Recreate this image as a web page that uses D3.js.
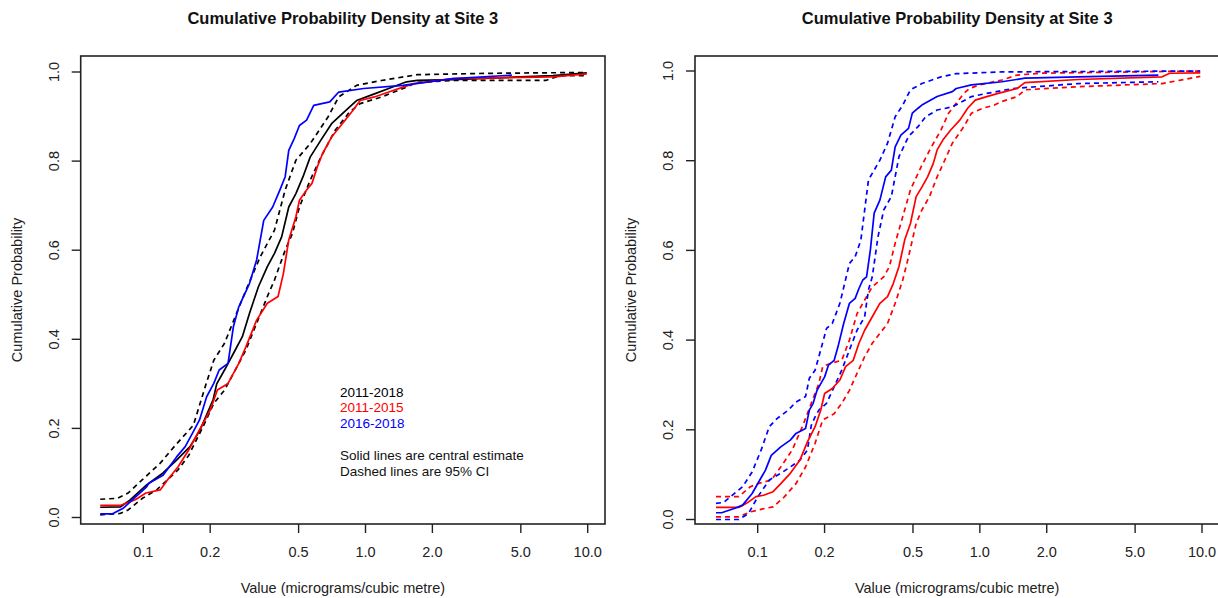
<!DOCTYPE html>
<html>
<head>
<meta charset="utf-8">
<script src="https://cdn.jsdelivr.net/npm/d3@7"></script>
<style>
  body { margin: 0; background: #fff; }
  svg { display: block; font-family: "Liberation Sans", Arial, sans-serif; }
</style>
</head>
<body>
<svg id="chart" width="1218" height="598"></svg>
<script>
// Títulos e rótulos
const chartTitle = "Cumulative Probability Density at Site 3";
const xTitle = "Value (micrograms/cubic metre)";
const yTitle = "Cumulative Probability";
const xTicks = [0.1, 0.2, 0.5, 1, 2, 5, 10];
const xTickLabels = ["0.1", "0.2", "0.5", "1.0", "2.0", "5.0", "10.0"];
const yTicks = [0, 0.2, 0.4, 0.6, 0.8, 1.0];
const yTickLabels = ["0.0", "0.2", "0.4", "0.6", "0.8", "1.0"];

const periods = ["2011-2018", "2011-2015", "2016-2018"];
const periodColors = ["#000000", "#ff0000", "#0000ff"];
const notes = ["Solid lines are central estimate", "Dashed lines are 95% CI"];

// Painel esquerdo: [valor, probabilidade]
const left2011_2018 = [[0.064,0.023],[0.079,0.024],[0.087,0.039],[0.1035,0.073],[0.1227,0.100],[0.1412,0.129],[0.1622,0.159],[0.180,0.196],[0.2061,0.264],[0.2140,0.300],[0.232,0.331],[0.2593,0.376],[0.2791,0.406],[0.3004,0.458],[0.3297,0.518],[0.3616,0.563],[0.3894,0.593],[0.4194,0.630],[0.4515,0.697],[0.4861,0.727],[0.5234,0.765],[0.5636,0.809],[0.6297,0.847],[0.7035,0.884],[0.816,0.914],[0.9117,0.936],[1.097,0.951],[1.272,0.963],[1.530,0.978],[1.711,0.981],[2.475,0.983],[6.973,0.992],[9.908,0.998]];
const left2011_2018Lo = [[0.064,0.006],[0.0786,0.009],[0.0855,0.017],[0.0991,0.043],[0.1149,0.062],[0.1434,0.107],[0.1603,0.140],[0.1858,0.204],[0.2076,0.256],[0.232,0.286],[0.2593,0.331],[0.2895,0.376],[0.3236,0.436],[0.3616,0.496],[0.3894,0.533],[0.435,0.600],[0.4685,0.637],[0.5044,0.697],[0.5636,0.757],[0.6297,0.809],[0.7302,0.869],[0.8467,0.910],[0.9461,0.929],[1.181,0.944],[1.53,0.966],[1.711,0.977],[2.475,0.981],[6.475,0.981],[7.508,0.992],[9.908,0.992]];
const left2011_2018Hi = [[0.064,0.041],[0.0765,0.043],[0.0855,0.055],[0.0991,0.085],[0.1192,0.122],[0.1382,0.160],[0.168,0.207],[0.192,0.301],[0.2076,0.353],[0.232,0.391],[0.2593,0.451],[0.2895,0.510],[0.3358,0.585],[0.3894,0.645],[0.435,0.735],[0.4861,0.802],[0.5636,0.839],[0.678,0.899],[0.7577,0.944],[0.9117,0.970],[1.181,0.981],[1.711,0.994],[3.583,0.997],[9.908,0.999]];
const left2011_2015 = [[0.064,0.027],[0.0786,0.027],[0.092,0.040],[0.1028,0.055],[0.1192,0.062],[0.1284,0.084],[0.1434,0.114],[0.1603,0.152],[0.1791,0.197],[0.2001,0.241],[0.2154,0.286],[0.2406,0.301],[0.269,0.346],[0.2895,0.383],[0.3236,0.443],[0.3616,0.481],[0.4041,0.496],[0.4272,0.548],[0.4515,0.623],[0.4861,0.675],[0.5044,0.712],[0.5431,0.735],[0.5741,0.750],[0.6068,0.787],[0.6414,0.817],[0.7035,0.854],[0.7863,0.884],[0.8786,0.914],[0.9461,0.936],[1.097,0.944],[1.272,0.955],[1.475,0.966],[1.648,0.974],[2.475,0.985],[6.973,0.989],[9.908,0.996]];
const left2016_2018 = [[0.064,0.008],[0.0723,0.008],[0.0813,0.021],[0.1035,0.069],[0.1059,0.077],[0.1227,0.095],[0.1412,0.136],[0.1544,0.159],[0.1663,0.189],[0.1791,0.219],[0.1928,0.271],[0.2076,0.301],[0.2195,0.331],[0.2406,0.346],[0.2543,0.428],[0.269,0.473],[0.3004,0.525],[0.3236,0.578],[0.3484,0.667],[0.3822,0.697],[0.4116,0.735],[0.435,0.765],[0.4515,0.824],[0.4772,0.850],[0.5044,0.880],[0.5431,0.892],[0.5848,0.925],[0.6907,0.933],[0.7577,0.955],[0.9817,0.963],[1.475,0.970],[2.475,0.985],[4.557,0.993]];

// Painel direito
const right2011_2015 = [[0.0649,0.027],[0.0822,0.027],[0.089,0.036],[0.0982,0.051],[0.1063,0.054],[0.1173,0.062],[0.127,0.080],[0.1402,0.103],[0.1547,0.132],[0.1675,0.173],[0.1813,0.207],[0.1923,0.244],[0.2001,0.281],[0.2166,0.292],[0.2344,0.311],[0.2487,0.341],[0.2692,0.355],[0.2856,0.393],[0.303,0.422],[0.3279,0.452],[0.3548,0.482],[0.3841,0.497],[0.4076,0.526],[0.4325,0.564],[0.4587,0.623],[0.487,0.660],[0.5167,0.720],[0.5483,0.741],[0.5817,0.764],[0.6174,0.794],[0.6422,0.824],[0.6815,0.846],[0.7376,0.868],[0.8141,0.891],[0.8812,0.917],[0.9537,0.935],[1.074,0.943],[1.209,0.950],[1.473,0.961],[1.594,0.974],[2.773,0.981],[6.618,0.987],[7.16,0.995],[9.824,0.996]];
const right2011_2015Lo = [[0.0649,0.006],[0.0822,0.006],[0.0926,0.017],[0.1084,0.025],[0.1173,0.028],[0.1321,0.051],[0.1487,0.080],[0.1642,0.117],[0.1813,0.170],[0.1962,0.222],[0.2209,0.236],[0.239,0.259],[0.2588,0.288],[0.28,0.326],[0.303,0.363],[0.3279,0.393],[0.3548,0.415],[0.3841,0.437],[0.4157,0.482],[0.4497,0.534],[0.4775,0.586],[0.5167,0.660],[0.5483,0.690],[0.5934,0.720],[0.6422,0.764],[0.6951,0.801],[0.7522,0.839],[0.8469,0.876],[0.9167,0.906],[1.032,0.917],[1.162,0.924],[1.258,0.932],[1.473,0.943],[1.594,0.958],[2.773,0.965],[6.618,0.972],[9.824,0.988]];
const right2011_2015Hi = [[0.0649,0.051],[0.0822,0.051],[0.0926,0.073],[0.1002,0.080],[0.1151,0.088],[0.127,0.117],[0.143,0.155],[0.161,0.214],[0.1742,0.259],[0.1885,0.303],[0.1962,0.341],[0.2123,0.348],[0.239,0.355],[0.2588,0.400],[0.28,0.459],[0.2972,0.482],[0.3279,0.519],[0.3692,0.541],[0.3917,0.564],[0.4157,0.616],[0.4587,0.690],[0.487,0.735],[0.5483,0.790],[0.6053,0.831],[0.6681,0.868],[0.7232,0.906],[0.7825,0.928],[0.8469,0.950],[0.8987,0.961],[0.9921,0.969],[1.258,0.980],[1.473,0.991],[1.867,0.995],[9.824,1.0]];
const right2016_2018 = [[0.0649,0.015],[0.0688,0.015],[0.079,0.025],[0.0855,0.032],[0.0944,0.058],[0.1022,0.088],[0.1084,0.110],[0.1151,0.143],[0.127,0.162],[0.1402,0.177],[0.1487,0.192],[0.1642,0.203],[0.1708,0.244],[0.1777,0.259],[0.1849,0.288],[0.2001,0.318],[0.2082,0.344],[0.2209,0.355],[0.2298,0.385],[0.2438,0.437],[0.2588,0.482],[0.2746,0.493],[0.2856,0.515],[0.2972,0.534],[0.3091,0.541],[0.3215,0.601],[0.3344,0.683],[0.3548,0.712],[0.3767,0.764],[0.3996,0.779],[0.4157,0.831],[0.4411,0.857],[0.4775,0.872],[0.4966,0.906],[0.527,0.917],[0.5483,0.924],[0.6422,0.943],[0.7522,0.954],[0.7825,0.961],[0.9167,0.969],[1.258,0.976],[1.594,0.984],[2.773,0.987],[6.362,0.991]];
const right2016_2018Lo = [[0.0649,0.0],[0.0822,0.0],[0.0908,0.013],[0.1002,0.051],[0.1128,0.088],[0.127,0.103],[0.1402,0.117],[0.1547,0.132],[0.1675,0.155],[0.1742,0.210],[0.1813,0.229],[0.1885,0.244],[0.2041,0.259],[0.2209,0.296],[0.239,0.333],[0.2588,0.378],[0.28,0.422],[0.303,0.452],[0.3152,0.512],[0.3279,0.541],[0.3478,0.630],[0.3692,0.690],[0.3996,0.720],[0.4325,0.809],[0.4775,0.854],[0.527,0.876],[0.5704,0.898],[0.6422,0.913],[0.7522,0.920],[0.9167,0.943],[1.074,0.950],[1.416,0.961],[2.773,0.972],[6.362,0.976]];
const right2016_2018Hi = [[0.0649,0.036],[0.0702,0.038],[0.0855,0.073],[0.0944,0.106],[0.1042,0.158],[0.1128,0.207],[0.1221,0.225],[0.1374,0.244],[0.1487,0.262],[0.1642,0.274],[0.1708,0.315],[0.1813,0.333],[0.1885,0.363],[0.2041,0.426],[0.2166,0.437],[0.2344,0.482],[0.2588,0.571],[0.2746,0.586],[0.2913,0.623],[0.303,0.690],[0.3152,0.757],[0.3548,0.801],[0.3841,0.839],[0.4157,0.898],[0.4497,0.924],[0.487,0.958],[0.5483,0.972],[0.6681,0.987],[0.7825,0.994],[1.258,0.998],[9.824,1.0]];

// Layout dos painéis (pixels)
const panels = [
  { x0: 80.7, x1: 605, y0: 56, y1: 524, tick01: 143.3, tick10: 587.7, p0: 517.5, p1: 72,
    series: [
      { data: left2011_2018Hi, color: periodColors[0], dashed: true },
      { data: left2011_2018Lo, color: periodColors[0], dashed: true },
      { data: left2011_2018, color: periodColors[0] },
      { data: left2011_2015, color: periodColors[1] },
      { data: left2016_2018, color: periodColors[2] }
    ], legend: true },
  { x0: 695, x1: 1219.3, y0: 56, y1: 524, tick01: 757.7, tick10: 1202, p0: 519.5, p1: 71,
    series: [
      { data: right2011_2015Hi, color: periodColors[1], dashed: true },
      { data: right2011_2015Lo, color: periodColors[1], dashed: true },
      { data: right2016_2018Hi, color: periodColors[2], dashed: true },
      { data: right2016_2018Lo, color: periodColors[2], dashed: true },
      { data: right2011_2015, color: periodColors[1] },
      { data: right2016_2018, color: periodColors[2] }
    ], legend: false }
];

const svg = d3.select("#chart");

panels.forEach(p => {
  const g = svg.append("g");
  const x = d3.scaleLog().domain([0.1, 10]).range([p.tick01, p.tick10]);
  const y = d3.scaleLinear().domain([0, 1]).range([p.p0, p.p1]);
  const cx = (p.x0 + p.x1) / 2;

  // Curvas
  const line = d3.line().x(d => x(d[0])).y(d => y(d[1]));
  p.series.forEach(s => {
    g.append("path")
      .attr("d", line(s.data))
      .attr("fill", "none")
      .attr("stroke", s.color)
      .attr("stroke-width", 1.7)
      .attr("stroke-linejoin", "round")
      .attr("stroke-dasharray", s.dashed ? "5,4" : null);
  });

  // Caixa
  g.append("rect")
    .attr("x", p.x0).attr("y", p.y0)
    .attr("width", p.x1 - p.x0).attr("height", p.y1 - p.y0)
    .attr("fill", "none").attr("stroke", "#222").attr("stroke-width", 1.6);

  // Eixo x
  xTicks.forEach((t, i) => {
    g.append("line")
      .attr("x1", x(t)).attr("x2", x(t))
      .attr("y1", p.y1).attr("y2", p.y1 + 9)
      .attr("stroke", "#222").attr("stroke-width", 1.4);
    g.append("text")
      .attr("x", x(t)).attr("y", 557)
      .attr("text-anchor", "middle")
      .attr("font-size", "14.5px").attr("fill", "#222")
      .text(xTickLabels[i]);
  });

  // Eixo y
  yTicks.forEach((t, i) => {
    g.append("line")
      .attr("x1", p.x0 - 9).attr("x2", p.x0)
      .attr("y1", y(t)).attr("y2", y(t))
      .attr("stroke", "#222").attr("stroke-width", 1.4);
    g.append("text")
      .attr("transform", `translate(${p.x0 - 22},${y(t)}) rotate(-90)`)
      .attr("text-anchor", "middle")
      .attr("font-size", "14.5px").attr("fill", "#222")
      .text(yTickLabels[i]);
  });

  // Títulos
  g.append("text")
    .attr("x", cx).attr("y", 24)
    .attr("text-anchor", "middle")
    .attr("font-size", "16.5px").attr("font-weight", "bold").attr("fill", "#111")
    .text(chartTitle);
  g.append("text")
    .attr("x", cx).attr("y", 593)
    .attr("text-anchor", "middle")
    .attr("font-size", "14.5px").attr("fill", "#222")
    .text(xTitle);
  g.append("text")
    .attr("transform", `translate(${p.x0 - 59},${(p.y0 + p.y1) / 2}) rotate(-90)`)
    .attr("text-anchor", "middle")
    .attr("font-size", "14.5px").attr("fill", "#222")
    .text(yTitle);

  // Legenda (só texto)
  if (p.legend) {
    periods.forEach((name, i) => {
      g.append("text")
        .attr("x", 340).attr("y", 396.5 + i * 15.7)
        .attr("font-size", "13.5px").attr("fill", periodColors[i])
        .text(name);
    });
    notes.forEach((n, i) => {
      g.append("text")
        .attr("x", 340).attr("y", 460 + i * 15.7)
        .attr("font-size", "13.5px").attr("fill", "#111")
        .text(n);
    });
  }
});
</script>
</body>
</html>
